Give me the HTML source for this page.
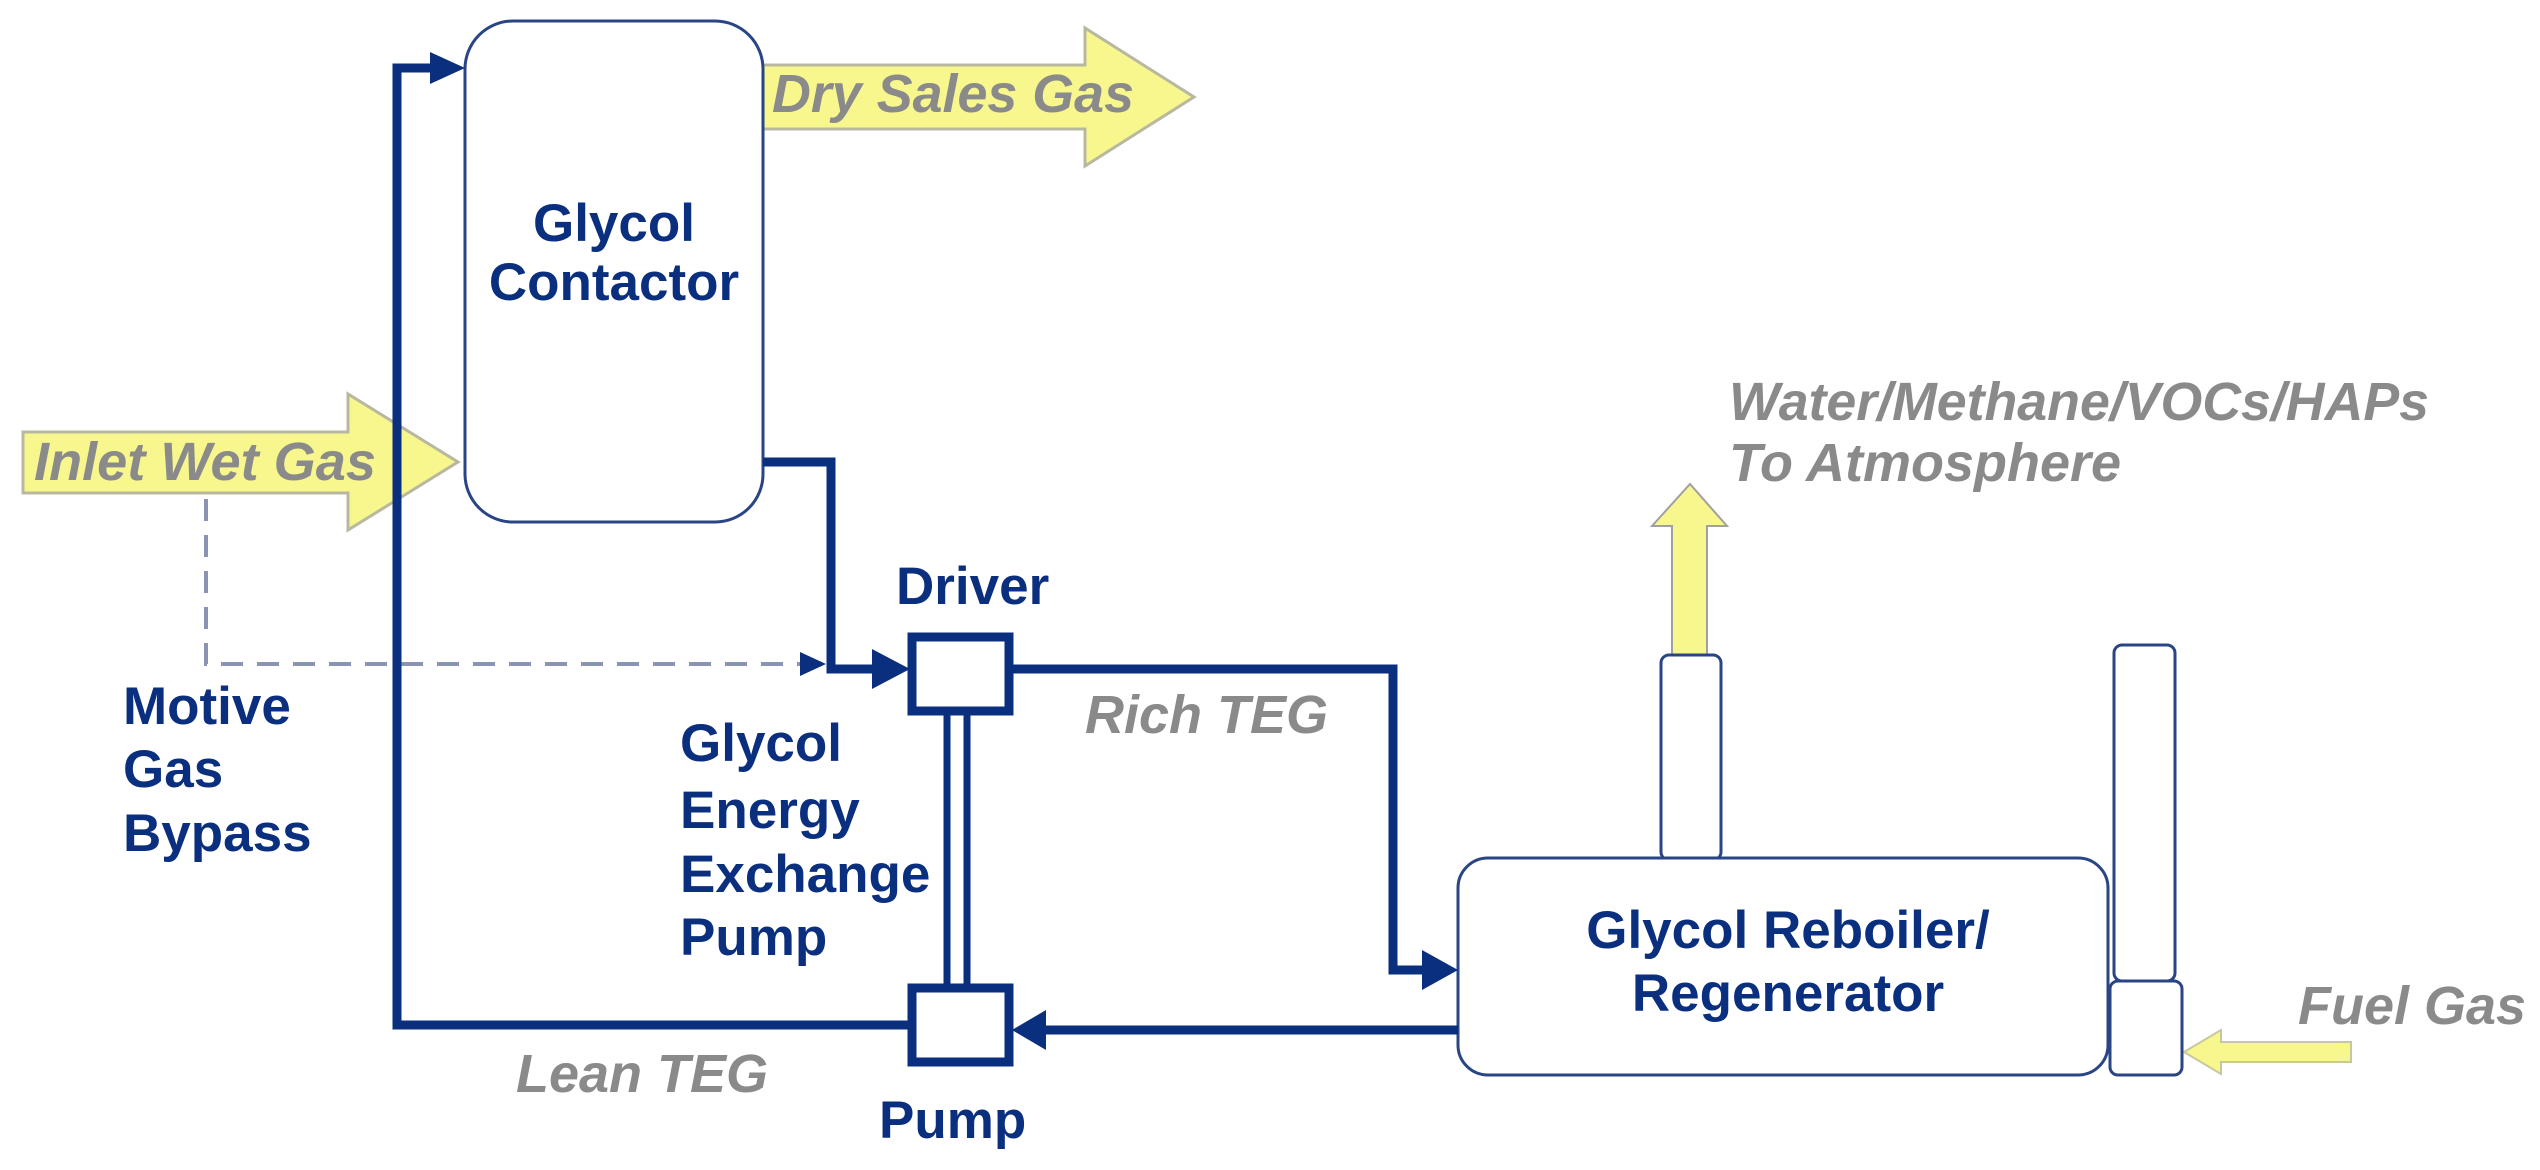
<!DOCTYPE html>
<html><head><meta charset="utf-8"><style>
html,body{margin:0;padding:0;background:#fff;width:2540px;height:1170px;overflow:hidden}
svg{display:block}
.n{font-family:"Liberation Sans",sans-serif;font-weight:bold;fill:#0b2f7f;font-size:53px}
.g{font-family:"Liberation Sans",sans-serif;font-weight:bold;font-style:italic;fill:#8a8a8a;font-size:54px}
</style></head><body>
<svg width="2540" height="1170" viewBox="0 0 2540 1170" xmlns="http://www.w3.org/2000/svg">
<polygon points="763,65 1085,65 1085,28 1194,97 1085,166 1085,129 763,129" fill="#f7f78e" stroke="#b8b8a0" stroke-width="3"/>
<polygon points="23,432 348,432 348,394 458,462 348,530 348,493 23,493" fill="#f7f78e" stroke="#b8b8a0" stroke-width="3"/>
<polygon points="1672,655 1672,526 1652,526 1690,484 1727,526 1707,526 1707,655" fill="#f7f78e" stroke="#a0a0a0" stroke-width="2"/>
<polygon points="2351,1042 2221,1042 2221,1030 2184,1052 2221,1074 2221,1062 2351,1062" fill="#f7f78e" stroke="#c8c8a0" stroke-width="2"/>
<rect x="465" y="21" width="298" height="501" rx="48" fill="#fff" stroke="#2a4585" stroke-width="3"/>
<rect x="1661" y="655" width="60" height="205" rx="8" fill="#fff" stroke="#2a4585" stroke-width="3"/>
<rect x="1458" y="858" width="650" height="217" rx="30" fill="#fff" stroke="#2a4585" stroke-width="3"/>
<rect x="2114" y="645" width="61" height="336" rx="8" fill="#fff" stroke="#2a4585" stroke-width="3"/>
<rect x="2110" y="981" width="72" height="94" rx="8" fill="#fff" stroke="#2a4585" stroke-width="3"/>
<polyline points="206,499 206,664 800,664" fill="none" stroke="#8a93b0" stroke-width="4" stroke-dasharray="22,14"/>
<polygon points="800,652 826,664 800,676" fill="#0b2f7f"/>
<g fill="none" stroke="#0b2f7f" stroke-width="9">
<polyline points="437,68 397,68 397,1025 910,1025"/>
<polyline points="763,462 831,462 831,669 880,669"/>
<polyline points="1013,669 1393,669 1393,970 1430,970"/>
<line x1="1458" y1="1030" x2="1040" y2="1030"/>
<rect x="912" y="637" width="97" height="74"/>
<rect x="912" y="988" width="97" height="74"/>
<line x1="947" y1="711" x2="947" y2="988" stroke-width="7"/>
<line x1="967" y1="711" x2="967" y2="988" stroke-width="7"/>
</g>
<g fill="#0b2f7f">
<polygon points="430,52 465,68 430,84"/>
<polygon points="872,649 910,669 872,689"/>
<polygon points="1422,950 1458,970 1422,990"/>
<polygon points="1046,1010 1012,1030 1046,1050"/>
</g>
<text class="g" x="772" y="112" textLength="362" lengthAdjust="spacingAndGlyphs">Dry Sales Gas</text>
<text class="g" x="34" y="480" textLength="342" lengthAdjust="spacingAndGlyphs">Inlet Wet Gas</text>
<text class="n" x="614" y="241" text-anchor="middle">Glycol</text>
<text class="n" x="614" y="300" text-anchor="middle">Contactor</text>
<text class="n" x="896" y="604">Driver</text>
<text class="n" x="123" y="724">Motive</text>
<text class="n" x="123" y="787">Gas</text>
<text class="n" x="123" y="851">Bypass</text>
<text class="n" x="680" y="761">Glycol</text>
<text class="n" x="680" y="828">Energy</text>
<text class="n" x="680" y="892">Exchange</text>
<text class="n" x="680" y="955">Pump</text>
<text class="g" x="1085" y="733">Rich TEG</text>
<text class="g" x="516" y="1092">Lean TEG</text>
<text class="n" x="879" y="1138">Pump</text>
<text class="n" x="1788" y="948" text-anchor="middle">Glycol Reboiler/</text>
<text class="n" x="1788" y="1011" text-anchor="middle">Regenerator</text>
<text class="g" x="1729" y="420" textLength="700" lengthAdjust="spacingAndGlyphs">Water/Methane/VOCs/HAPs</text>
<text class="g" x="1729" y="481">To Atmosphere</text>
<text class="g" x="2298" y="1024">Fuel Gas</text>
</svg>
</body></html>
